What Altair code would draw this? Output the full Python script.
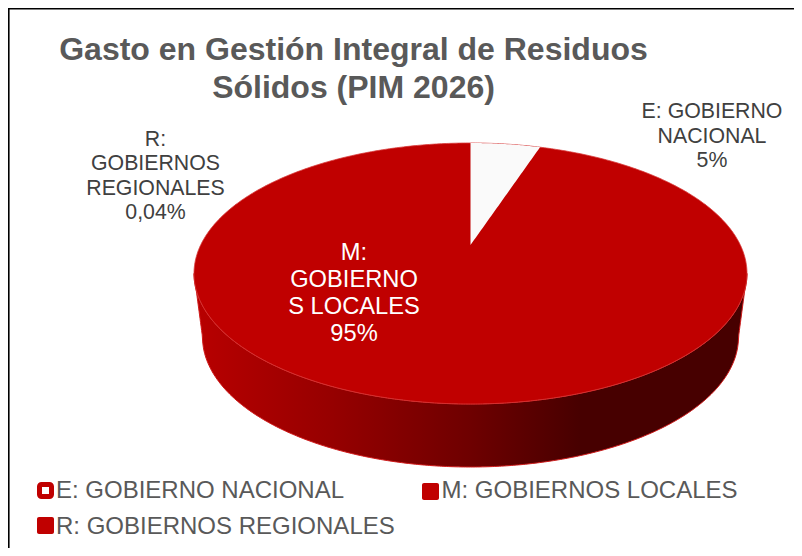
import math
import altair as alt
import pandas as pd

# ---- values ----
categories = ["E: GOBIERNO NACIONAL", "M: GOBIERNOS LOCALES", "R: GOBIERNOS REGIONALES"]
shares = [5.0, 95.0, 0.04]
title_lines = ["Gasto en Gestión Integral de Residuos", "Sólidos (PIM 2026)"]
label_e = ["E: GOBIERNO", "NACIONAL", "5%"]
label_m = ["M:", "GOBIERNO", "S LOCALES", "95%"]
label_r = ["R:", "GOBIERNOS", "REGIONALES", "0,04%"]

W, H = 786, 540
OFF = 8
CX, CY, A, B = 470.5, 273.5, 276.5, 130.5     # top ellipse
BCY, BA, BB = 337.0, 268.0, 130.0             # bottom ellipse
APEX_Y = 245.0
FORESHORTEN = 0.81

xs = alt.Scale(domain=[OFF, OFF + W], range=[0, W], zero=False, nice=False)
ys = alt.Scale(domain=[OFF, OFF + H], range=[0, H], zero=False, nice=False)
X = alt.X("x:Q", scale=xs, axis=None)
Y = alt.Y("y:Q", scale=ys, axis=None)
Y2 = alt.Y2("y2:Q")


def half(x, cx, cy, a, b, sign):
    u = max(0.0, 1 - ((x - cx) / a) ** 2)
    return cy + sign * b * math.sqrt(u)


sweep = [i * math.pi / 360 for i in range(-180, 181)]
top_x = [CX + A * math.sin(t) for t in sweep]

# top disc
top_df = pd.DataFrame({
    "x": top_x,
    "y": [half(x, CX, CY, A, B, -1) for x in top_x],
    "y2": [half(x, CX, CY, A, B, 1) for x in top_x],
})

# side wall
slope = (BCY - CY) / (A - BA)


def wall_bottom(x):
    d = abs(x - CX)
    if d >= BA:
        return CY + (A - d) * slope
    return half(x, CX, BCY, BA, BB, 1)


side_df = pd.DataFrame({
    "x": top_x,
    "y": [half(x, CX, CY, A, B, 1) for x in top_x],
    "y2": [wall_bottom(x) for x in top_x],
})

# white wedge from its share of the circle
phi = 2 * math.pi * shares[0] / sum(shares) * FORESHORTEN
edge_x = CX + A * math.sin(phi)
edge_y = half(edge_x, CX, CY, A, B, -1)
wedge_x = [CX + (edge_x - CX) * i / 40 for i in range(41)]
wedge_df = pd.DataFrame({
    "x": wedge_x,
    "y": [half(x, CX, CY, A, B, -1) for x in wedge_x],
    "y2": [APEX_Y + (edge_y - APEX_Y) * (x - CX) / (edge_x - CX) for x in wedge_x],
})

side_fill = alt.Gradient(
    gradient="linear", x1=0, y1=0, x2=1, y2=0,
    stops=[
        alt.GradientStop(offset=0.0, color="#b80000"),
        alt.GradientStop(offset=0.25, color="#960000"),
        alt.GradientStop(offset=0.5, color="#6e0000"),
        alt.GradientStop(offset=0.7, color="#470000"),
        alt.GradientStop(offset=1.0, color="#470000"),
    ],
)

side = alt.Chart(side_df).mark_area(orient="vertical", fill=side_fill, stroke="#d01a1a", strokeWidth=1).encode(x=X, y=Y, y2=Y2)
top = alt.Chart(top_df).mark_area(orient="vertical", color="#c00000", stroke="#d83a3a", strokeWidth=0.8).encode(x=X, y=Y, y2=Y2)
wedge = alt.Chart(wedge_df).mark_area(orient="vertical", color="#fafafa").encode(x=X, y=Y, y2=Y2)

one = pd.DataFrame({"a": [0]})


def text(s, cx, cy, size, color, align="center", weight="normal", font="Liberation Sans"):
    return alt.Chart(one).mark_text(
        text=s, fontSize=size, color=color, align=align, baseline="middle", fontWeight=weight, font=font
    ).encode(x=alt.value(cx - OFF), y=alt.value(cy - OFF))


def square(x0, y0, size, fill, stroke, sw):
    return alt.Chart(one).mark_rect(fill=fill, stroke=stroke, strokeWidth=sw, cornerRadius=2).encode(
        x=alt.value(x0 - OFF), x2=alt.value(x0 + size - OFF),
        y=alt.value(y0 - OFF), y2=alt.value(y0 + size - OFF),
    )


layers = [side, top, wedge]

# frame
layers.append(alt.Chart(one).mark_rule(color="#000000", strokeWidth=1.6).encode(
    x=alt.value(0.8), y=alt.value(0), y2=alt.value(H)))
layers.append(alt.Chart(one).mark_rule(color="#000000", strokeWidth=1.6).encode(
    x=alt.value(0), x2=alt.value(W), y=alt.value(0.8)))

# title
for s, cy in zip(title_lines, [50, 88]):
    layers.append(text(s, 353.5, cy, 32, "#595959", weight="bold"))

# data labels
for s, cy in zip(label_e, [112, 137, 161]):
    layers.append(text(s, 712, cy, 21.3, "#404040"))
for s, cy in zip(label_r, [140, 164, 189, 213]):
    layers.append(text(s, 155.5, cy, 21.3, "#404040"))
for s, cy in zip(label_m, [253, 280, 307, 334]):
    layers.append(text(s, 354, cy, 23.7, "#ffffff"))

# legend
layers.append(square(39.5, 484.5, 12, "#ffffff", "#c00000", 5))
layers.append(text(categories[0], 56, 491, 24, "#595959", align="left"))
layers.append(square(422, 483, 17, "#c00000", "#c00000", 0))
layers.append(text(categories[1], 441.5, 491, 24, "#595959", align="left"))
layers.append(square(37, 517, 17, "#c00000", "#c00000", 0))
layers.append(text(categories[2], 56, 527, 24, "#595959", align="left"))

chart = alt.layer(*layers).properties(
    width=W, height=H, padding=0, autosize=alt.AutoSizeParams(type="none"), background="#ffffff"
).configure_view(strokeWidth=0)

chart.save("out.html", embed_options={"renderer": "svg", "actions": False})
